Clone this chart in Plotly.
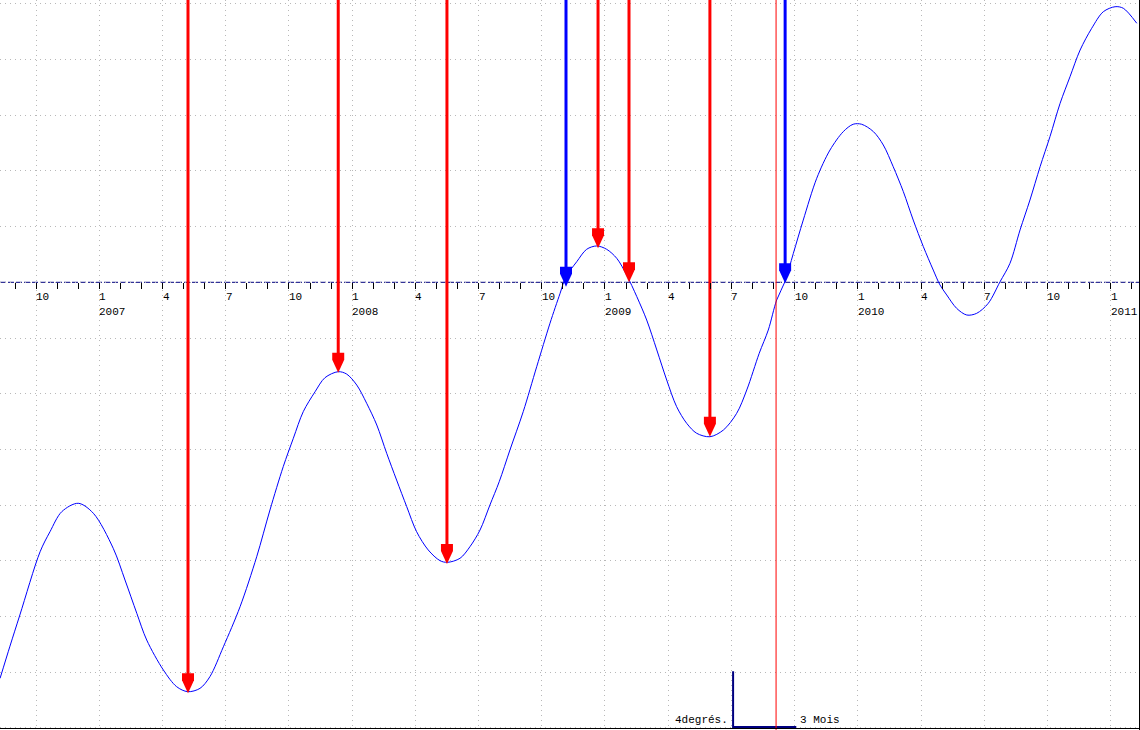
import plotly.graph_objects as go

# ---------------- data ----------------
# x: months since January 2007 (0 = Jan 2007), y: degrees
curve_m = [-4.71, -4.24, -3.77, -2.81, -2.34, -1.78, -1.00, -0.28, 0.66, 1.22,
           1.78, 2.25, 3.04, 3.67, 4.20, 4.78, 5.25, 5.89, 6.68, 7.47,
           8.10, 8.73, 9.21, 9.68, 10.24, 10.71, 11.34, 11.74, 12.22, 12.69,
           13.17, 13.64, 14.11, 14.59, 15.06, 15.61, 16.17, 16.52, 17.12, 17.59,
           18.07, 18.54, 18.98, 19.49, 20.12, 20.76, 21.39, 21.87, 22.15, 22.66,
           23.13, 23.61, 24.08, 24.56, 25.03, 25.51, 25.98, 26.46, 26.93, 27.40,
           27.88, 28.35, 28.98, 29.62, 30.25, 30.73, 31.32, 31.75, 32.15, 32.54,
           32.94, 33.41, 34.05, 34.68, 35.31, 35.78, 36.18, 36.74, 37.21, 37.68,
           38.16, 38.63, 39.11, 39.58, 39.90, 40.22, 40.69, 41.17, 41.64, 42.19,
           42.75, 43.22, 43.70, 44.17, 44.65, 45.12, 45.60, 46.07, 46.55, 47.10,
           47.65, 48.21, 48.60, 49.24]
curve_deg = [-28.44, -26.13, -23.89, -19.35, -17.91, -16.47, -15.87, -16.59, -19.10, -21.38,
             -23.77, -25.69, -27.84, -29.04, -29.40, -29.16, -28.32, -26.17, -23.30, -19.71,
             -16.35, -13.24, -11.20, -9.29, -7.86, -6.85, -6.42, -6.59, -7.38, -8.69,
             -10.25, -12.28, -14.20, -16.11, -17.91, -19.22, -19.99, -20.11, -19.82, -18.99,
             -17.79, -15.99, -14.32, -12.04, -9.29, -6.06, -2.94, -0.79, 0.40, 1.48,
             2.37, 2.61, 2.37, 1.72, 0.52, -1.03, -2.71, -4.86, -7.02, -8.93,
             -10.13, -10.84, -11.09, -10.61, -9.41, -7.73, -5.10, -3.43, -1.27, 0.04,
             2.08, 4.47, 7.47, 9.50, 10.82, 11.35, 11.35, 10.82, 9.86, 8.30,
             6.51, 4.47, 2.56, 0.88, -0.19, -0.91, -1.87, -2.35, -2.23, -1.51,
             0.04, 1.36, 3.76, 5.91, 8.30, 10.46, 12.85, 14.76, 16.68, 18.24,
             19.43, 19.79, 19.68, 18.60]

red_arrow_m = [4.21, 11.34, 16.50, 23.67, 25.14, 28.98]
red_arrow_deg = [-29.52, -6.49, -20.23, 2.44, 0.00, -11.09]
blue_arrow_m = [22.15, 32.55]
blue_arrow_deg = [-0.32, -0.07]
marker_line_m = [32.12]

month_tick_m = [-3, 0, 3, 6, 9, 12, 15, 18, 21, 24, 27, 30, 33, 36, 39, 42, 45, 48]
month_tick_text = ["10", "1", "4", "7", "10", "1", "4", "7", "10", "1",
                   "4", "7", "10", "1", "4", "7", "10", "1"]
year_m = [0, 12, 24, 36, 48]
year_text = ["2007", "2008", "2009", "2010", "2011"]

scale_origin_m = 30.08
scale_origin_deg = -31.93
scale_months = 3
scale_degrees = 4
scale_deg_label = "4degrés."
scale_month_label = "3 Mois"

# ---------------- geometry ----------------
W, H = 1140, 730
PX_PER_MONTH = 21.07
PX_PER_DEG = 13.925
ORIGIN_PX_X = 99.3
ORIGIN_PX_Y = 282.3
x_range = [-ORIGIN_PX_X / PX_PER_MONTH, (W - ORIGIN_PX_X) / PX_PER_MONTH]
y_range = [-(H - ORIGIN_PX_Y) / PX_PER_DEG, ORIGIN_PX_Y / PX_PER_DEG]
zero_pos = (0 - y_range[0]) / (y_range[1] - y_range[0])

RED = "#ff0000"
BLUE = "#0000ff"
NAVY = "#000080"
FONT = dict(family="Liberation Mono, DejaVu Sans Mono, monospace", size=11, color="#000000")

fig = go.Figure()

# thin red marker line
fig.add_trace(go.Scatter(
    x=[marker_line_m[0], marker_line_m[0]], y=y_range,
    mode="lines", line=dict(color=RED, width=1),
    xaxis="x2", hoverinfo="skip", showlegend=False))

# the curve
fig.add_trace(go.Scatter(
    x=curve_m, y=curve_deg, mode="lines",
    line=dict(color=BLUE, width=1, shape="spline", smoothing=0.9),
    hoverinfo="skip", showlegend=False))

# arrow shafts
def shafts(ms, ds):
    xs, ys = [], []
    off = 6 / PX_PER_DEG
    for m, d in zip(ms, ds):
        xs += [m, m, None]
        ys += [y_range[1], d + off, None]
    return xs, ys

rx, ry = shafts(red_arrow_m, red_arrow_deg)
fig.add_trace(go.Scatter(x=rx, y=ry, mode="lines", line=dict(color=RED, width=3),
                         hoverinfo="skip", showlegend=False))
bx, by = shafts(blue_arrow_m, blue_arrow_deg)
fig.add_trace(go.Scatter(x=bx, y=by, mode="lines", line=dict(color=BLUE, width=3),
                         hoverinfo="skip", showlegend=False))

# scale bar
fig.add_trace(go.Scatter(
    x=[scale_origin_m, scale_origin_m, scale_origin_m + scale_months],
    y=[scale_origin_deg + scale_degrees, scale_origin_deg, scale_origin_deg],
    mode="lines", line=dict(color=NAVY, width=2),
    hoverinfo="skip", showlegend=False))

shapes = []
# dashed zero axis
shapes.append(dict(type="line", xref="paper", x0=0, x1=1, yref="y", y0=0, y1=0,
                   line=dict(color=NAVY, width=1, dash="6px,2px"), layer="below"))
# arrow heads
HEAD = "M0,0 L-6,13 L-6,20 L6,20 L6,13 Z"
for ms, ds, col in ((red_arrow_m, red_arrow_deg, RED), (blue_arrow_m, blue_arrow_deg, BLUE)):
    for m, d in zip(ms, ds):
        shapes.append(dict(type="path", xref="x", yref="y",
                           xsizemode="pixel", ysizemode="pixel",
                           xanchor=m, yanchor=d, path=HEAD,
                           fillcolor=col, line=dict(width=0), layer="above"))
# frame (right and bottom)
shapes.append(dict(type="line", xref="paper", yref="paper", x0=1, x1=1, y0=0, y1=1,
                   line=dict(color="#000000", width=2), layer="above"))
shapes.append(dict(type="line", xref="paper", yref="paper", x0=0, x1=1,
                   y0=1.5 / H, y1=1.5 / H,
                   line=dict(color="#000000", width=1), layer="above"))

annotations = []
for m, t in zip(month_tick_m, month_tick_text):
    annotations.append(dict(x=m, y=0, xref="x", yref="y", text=t, showarrow=False,
                            xanchor="left", yanchor="top", yshift=-7, xshift=-2, font=FONT))
for m, t in zip(year_m, year_text):
    annotations.append(dict(x=m, y=0, xref="x", yref="y", text=t, showarrow=False,
                            xanchor="left", yanchor="top", yshift=-22, xshift=-2, font=FONT))
annotations.append(dict(x=scale_origin_m, y=scale_origin_deg, xref="x", yref="y",
                        text=scale_deg_label, showarrow=False, xanchor="right",
                        yanchor="bottom", xshift=-3, yshift=-1, font=FONT))
annotations.append(dict(x=scale_origin_m + scale_months, y=scale_origin_deg, xref="x", yref="y",
                        text=scale_month_label, showarrow=False, xanchor="left",
                        yanchor="bottom", xshift=2, yshift=-1, font=FONT))

GRID = dict(showgrid=True, gridcolor="#b8b8b8", gridwidth=1, griddash="1px,4px",
            zeroline=False, showline=False, showticklabels=False, ticks="")

fig.update_layout(
    width=W, height=H,
    margin=dict(l=0, r=0, t=0, b=0, pad=0),
    paper_bgcolor="#ffffff", plot_bgcolor="#ffffff",
    showlegend=False,
    xaxis=dict(range=x_range, tickmode="linear", tick0=0, dtick=3, **GRID),
    yaxis=dict(range=y_range, tickmode="linear", tick0=0, dtick=4, **GRID),
    xaxis2=dict(range=x_range, overlaying="x", anchor="free", position=zero_pos,
                side="bottom", tickmode="linear", tick0=0, dtick=1,
                ticks="outside", ticklen=6, tickwidth=1, tickcolor="#000000",
                showticklabels=False, showgrid=False, zeroline=False, showline=False),
    shapes=shapes,
    annotations=annotations,
)

fig.write_html("out.html", include_plotlyjs=True, full_html=True,
               config={"displayModeBar": False, "responsive": False},
               post_script="document.body.style.margin='0';")
